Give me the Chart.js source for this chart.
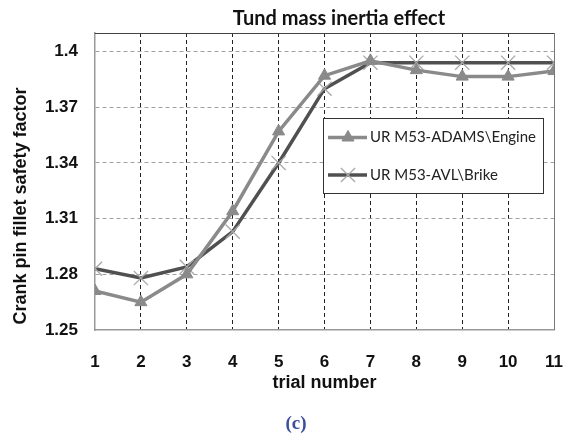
<!DOCTYPE html>
<html>
<head>
<meta charset="utf-8">
<script src="https://cdn.jsdelivr.net/npm/chart.js@4"></script>
<style>
  html, body { margin: 0; padding: 0; background: #fff; }
  #wrap { position: relative; width: 585px; height: 434px; }
  #cap { position: absolute; left: 0; width: 592px; top: 411px; text-align: center;
         font-family: "Liberation Serif", "DejaVu Serif", serif; font-weight: bold;
         font-size: 19px; color: #3d4f9c; line-height: 24px; }
</style>
</head>
<body>
<div id="wrap">
  <canvas id="c" width="585" height="434"></canvas>
  <div id="cap">(c)</div>
</div>
<script>
const chartTitle = "Tund mass inertia effect";
const xTitle = "trial number";
const yTitle = "Crank pin fillet safety factor";
const trials = [1, 2, 3, 4, 5, 6, 7, 8, 9, 10, 11];
const seriesNames = ["UR M53-ADAMS\\Engine", "UR M53-AVL\\Brike"];
const adams = [1.271, 1.265, 1.280, 1.314, 1.357, 1.387, 1.395, 1.390, 1.3865, 1.3865, 1.3895];
const avl   = [1.283, 1.278, 1.284, 1.303, 1.340, 1.380, 1.394, 1.394, 1.394, 1.394, 1.394];
const yTicks = [1.25, 1.28, 1.31, 1.34, 1.37, 1.40];

const toPts = arr => trials.map((t, i) => ({ x: t, y: arr[i] }));

const framePlugin = {
  id: 'frame',
  afterDraw(chart) {
    const { ctx, chartArea: a } = chart;
    ctx.save();
    ctx.setLineDash([]);
    // top & right border
    ctx.strokeStyle = '#444';
    ctx.lineWidth = 1;
    ctx.beginPath();
    ctx.moveTo(a.left, a.top + 0.5); ctx.lineTo(a.right, a.top + 0.5);
    ctx.stroke();
    ctx.strokeStyle = '#777';
    ctx.beginPath();
    ctx.moveTo(a.right + 0.5, a.top); ctx.lineTo(a.right + 0.5, a.bottom);
    ctx.stroke();
    // chart title
    ctx.fillStyle = '#111';
    ctx.font = 'bold 20px Lato, "Open Sans", sans-serif';
    ctx.textAlign = 'center';
    ctx.textBaseline = 'middle';
    ctx.fillText(chartTitle, 339, 19);
    // y title
    ctx.save();
    ctx.translate(21, 206);
    ctx.rotate(-Math.PI / 2);
    ctx.font = 'bold 18px "Liberation Sans", Arial, sans-serif';
    ctx.fillText(yTitle, 0, 0);
    ctx.restore();
    // legend
    const bx = 323, by = 118, bw = 220, bh = 75;
    ctx.fillStyle = '#fff';
    ctx.fillRect(bx, by, bw, bh);
    ctx.strokeStyle = '#333';
    ctx.lineWidth = 1;
    ctx.strokeRect(bx + 0.5, by + 0.5, bw, bh);
    const rows = [137.5, 175];
    chart.data.datasets.forEach((ds, i) => {
      const y = rows[i];
      ctx.strokeStyle = ds.borderColor;
      ctx.lineWidth = ds.borderWidth;
      ctx.beginPath();
      ctx.moveTo(328, y); ctx.lineTo(367, y);
      ctx.stroke();
      ctx.fillStyle = ds.pointBackgroundColor;
      ctx.strokeStyle = ds.pointBorderColor;
      ctx.lineWidth = ds.pointBorderWidth;
      Chart.helpers.drawPoint(ctx, {
        pointStyle: ds.pointStyle, radius: ds.pointRadius, rotation: 0,
        borderWidth: ds.pointBorderWidth
      }, 348, y);
      ctx.fillStyle = '#222';
      ctx.font = '15px Lato, "Open Sans", sans-serif';
      ctx.textAlign = 'left';
      ctx.textBaseline = 'middle';
      ctx.fillText(ds.label, 370, y);
    });
    ctx.restore();
  }
};

new Chart(document.getElementById('c'), {
  type: 'line',
  data: {
    datasets: [
      {
        label: seriesNames[0],
        data: toPts(adams),
        borderColor: '#8a8a8a',
        borderWidth: 3.5,
        pointStyle: 'triangle',
        pointRadius: 7,
        pointBackgroundColor: '#8a8a8a',
        pointBorderColor: '#8a8a8a',
        pointBorderWidth: 1,
        tension: 0
      },
      {
        label: seriesNames[1],
        data: toPts(avl),
        borderColor: '#505050',
        borderWidth: 3.5,
        pointStyle: 'crossRot',
        pointRadius: 10,
        pointBackgroundColor: '#a8a8a8',
        pointBorderColor: '#a8a8a8',
        pointBorderWidth: 1.3,
        tension: 0
      }
    ]
  },
  options: {
    responsive: false,
    animation: false,
    layout: { padding: { left: 0, right: 21, top: 33, bottom: 0 } },
    plugins: { legend: { display: false }, tooltip: { enabled: false }, title: { display: false } },
    scales: {
      x: {
        type: 'linear',
        min: 1, max: 11,
        afterFit(s) { s.height = 104; },
        ticks: {
          stepSize: 1,
          padding: 22,
          color: '#111',
          font: { family: '"Liberation Sans", Arial, sans-serif', size: 17, weight: 'bold' },
          callback: v => String(v)
        },
        grid: {
          drawTicks: false,
          color: c => (c.tick && (c.tick.value === 1 || c.tick.value === 11)) ? 'rgba(0,0,0,0)' : '#222',
          lineWidth: 1
        },
        border: { display: true, color: '#999', width: 1.5, dash: [4, 3] },
        title: {
          display: true,
          text: xTitle,
          color: '#111',
          font: { family: '"Liberation Sans", Arial, sans-serif', size: 18, weight: 'bold' },
          padding: { top: 0, bottom: 40 }
        }
      },
      y: {
        type: 'linear',
        min: 1.25, max: 1.41,
        afterFit(s) { s.width = 95; },
        afterBuildTicks(s) { s.ticks = yTicks.map(v => ({ value: v })); },
        ticks: {
          padding: 17,
          color: '#111',
          font: { family: '"Liberation Sans", Arial, sans-serif', size: 17, weight: 'bold' },
          callback: v => String(v)
        },
        grid: {
          drawTicks: false,
          color: c => (c.tick && c.tick.value === 1.25) ? 'rgba(0,0,0,0)' : '#a0a0a0',
          lineWidth: 1
        },
        border: { display: true, color: '#999', width: 1.5, dash: [4, 3] }
      }
    }
  },
  plugins: [framePlugin]
});
</script>
</body>
</html>
